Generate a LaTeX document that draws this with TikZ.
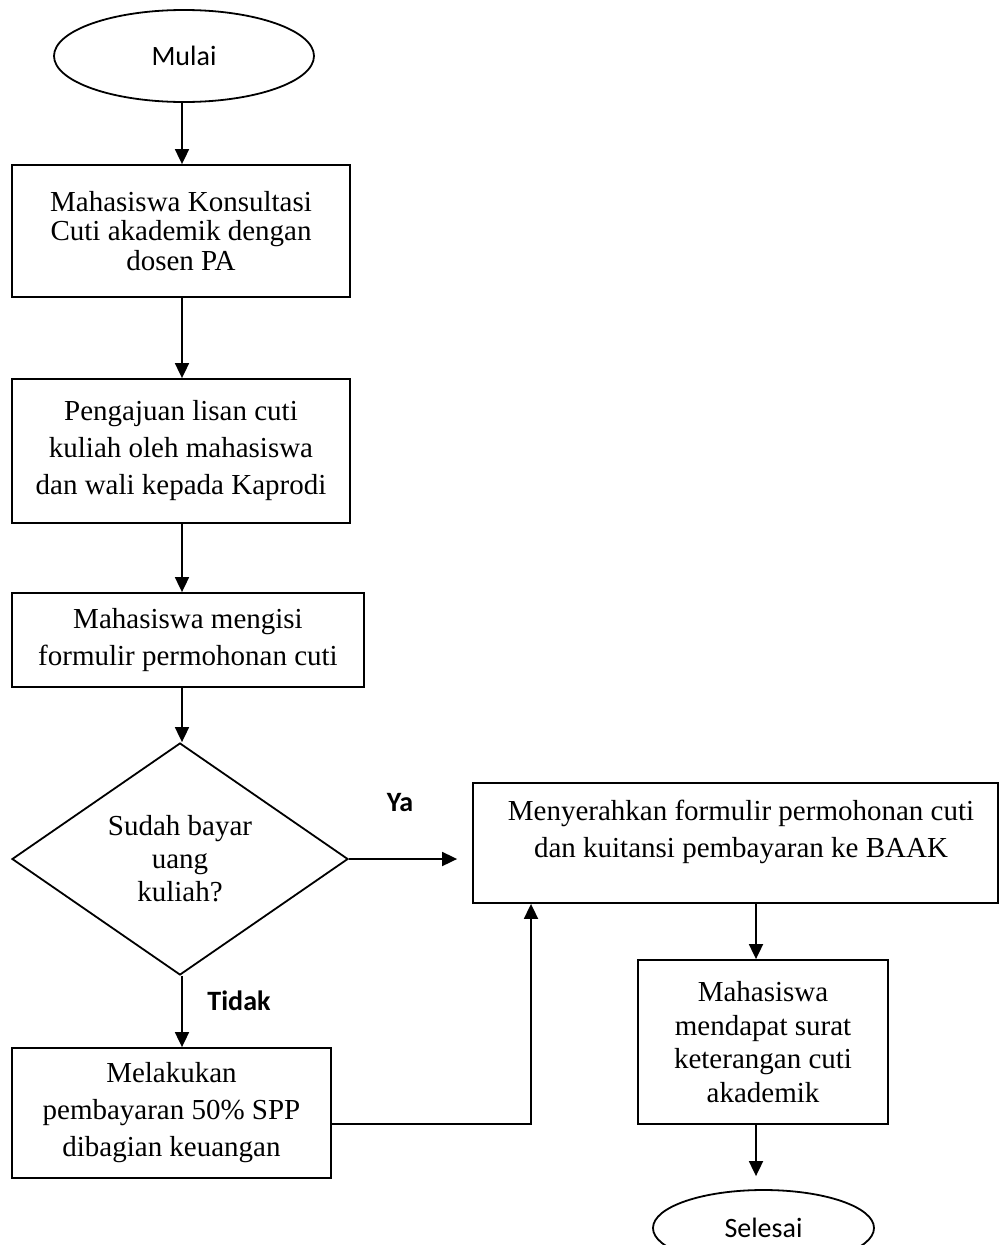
\documentclass[tikz,border=0pt]{standalone}
\usepackage{fontspec}
\setmainfont{Liberation Serif}
\newfontfamily\calib{Carlito}
\usetikzlibrary{shapes.geometric,arrows.meta}
\begin{document}
\begin{tikzpicture}[x=1pt,y=-1pt,
  box/.style={draw,line width=1.8pt,inner sep=0pt,align=center,font=\fontsize{29}{37}\selectfont},
  txt/.style={inner sep=0pt,align=center,font=\fontsize{29}{37}\selectfont},
  term/.style={draw,ellipse,line width=1.8pt,inner sep=0pt,font=\calib\fontsize{28}{34}\selectfont},
  dec/.style={draw,diamond,aspect=1.45,line width=1.8pt,inner sep=0pt,align=center,font=\fontsize{29}{33}\selectfont},
  arr/.style={line width=1.8pt,-{Triangle[length=15pt,width=14pt]}},
  lbl/.style={inner sep=0pt,font=\calib\bfseries\fontsize{28}{34}\selectfont}]
\useasboundingbox (0,0) rectangle (1000,1245);
\fill[white] (0,0) rectangle (1000,1245);

\node[term, minimum width=260pt, minimum height=92pt] (mulai) at (184,56) {Mulai};
\node[box, minimum width=338pt, minimum height=132pt, font=\fontsize{29}{29.5}\selectfont] (b1) at (181,231) {Mahasiswa Konsultasi\\Cuti akademik dengan\\dosen PA};
\node[box, minimum width=338pt, minimum height=144pt] (b2) at (181,451) {Pengajuan lisan cuti\\kuliah oleh mahasiswa\\dan wali kepada Kaprodi};
\node[box, minimum width=352pt, minimum height=94pt] (b3) at (188,640) {Mahasiswa mengisi\\formulir permohonan cuti};
\node[dec, minimum width=336pt, minimum height=232pt] (dia) at (180,859) {Sudah bayar\\uang\\kuliah?};
\node[box, minimum width=319pt, minimum height=130pt] (b4) at (171.5,1113) {Melakukan\\pembayaran 50\% SPP\\dibagian keuangan};
\node[box, minimum width=525pt, minimum height=120pt] (b5) at (735.5,843) {};
\node[txt] (t5) at (741,832) {Menyerahkan formulir permohonan cuti\\dan kuitansi pembayaran ke BAAK};
\node[box, minimum width=250pt, minimum height=164pt, font=\fontsize{29}{33.5}\selectfont] (b6) at (763,1042) {Mahasiswa\\mendapat surat\\keterangan cuti\\akademik};
\node[term, minimum width=221pt, minimum height=76pt] (sel) at (763.5,1228) {Selesai};

\node[lbl] (ya) at (400,803) {Ya};
\node[lbl] (tidak) at (239,1001) {Tidak};

\coordinate (ax) at (182,0);
\coordinate (ax2) at (756,0);
\coordinate (j) at (531,1124);

\draw[arr] (mulai.south -| ax) -- (b1.north -| ax);
\draw[arr] (b1.south -| ax) -- (b2.north -| ax);
\draw[arr] (b2.south -| ax) -- (b3.north -| ax);
\draw[arr] (b3.south -| ax) -- (dia.north -| ax);
\draw[arr] (dia.south -| ax) -- (b4.north -| ax);
\draw[arr, shorten >=15pt] (dia.east) -- (dia.east -| b5.west);
\draw[arr] (b4.east |- j) -- (j) -- (j |- b5.south);
\draw[arr] (b5.south -| ax2) -- (b6.north -| ax2);
\draw[arr, shorten >=13pt] (b6.south -| ax2) -- (sel.north -| ax2);
\end{tikzpicture}
\end{document}
